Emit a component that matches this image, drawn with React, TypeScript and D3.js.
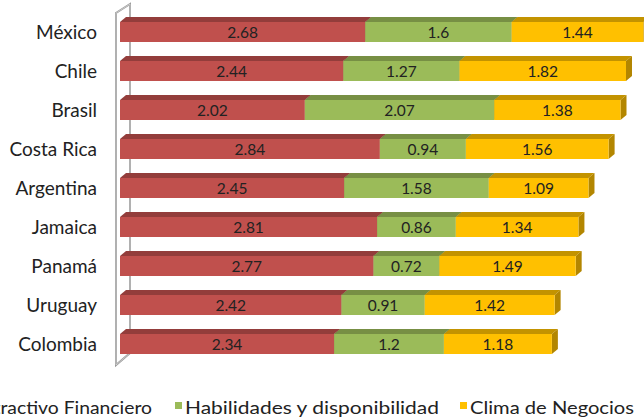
import React from "react";
import * as d3 from "d3";

const categories = ["México", "Chile", "Brasil", "Costa Rica", "Argentina", "Jamaica", "Panamá", "Uruguay", "Colombia"];
const atractivo = [2.68, 2.44, 2.02, 2.84, 2.45, 2.81, 2.77, 2.42, 2.34];
const habilidades = [1.6, 1.27, 2.07, 0.94, 1.58, 0.86, 0.72, 0.91, 1.2];
const clima = [1.44, 1.82, 1.38, 1.56, 1.09, 1.34, 1.49, 1.42, 1.18];
const seriesNames = ["Atractivo Financiero", "Habilidades  y disponibilidad", "Clima de Negocios"];
const seriesColors = ["#C0504D", "#9BBB59", "#FFC000"];

const W = 644;
const H = 418;
const BAR_H = 20;
const DX = 6;
const DY = 5;
const FONT = "Lato, 'Open Sans', sans-serif";

export default function App() {
  const series = [atractivo, habilidades, clima];
  const x = d3.scaleLinear().domain([0, 6]).range([120, 120 + 6 * 91.5]);
  const y = d3.scalePoint<string>().domain(categories).range([32, 344]);

  const rows = categories.map((c, i) => {
    const vals = series.map((s) => s[i]);
    const stackEnds = d3.cumsum(vals);
    return { c, vals, stackEnds };
  });

  const legendX = [-29, 175, 460];
  const legendEnd = [152, 439, 634];

  return (
    <div style={{ position: "fixed", left: 0, top: 0, width: W, height: H, background: "#fff" }}>
      <svg width={W} height={H} style={{ display: "block" }}>
        {/* side wall */}
        <path d="M116,365 L116,13 L130,4 L130,353 Z" fill="#ffffff" stroke="#9a9a9a" strokeWidth={2} />
        <path d="M116,365 L116,13 L130,4 L130,353 Z" fill="none" stroke="#e6e6e6" strokeWidth={0.6} />
        {rows.map((r) => {
          const cy = y(r.c)!;
          const y0 = cy - BAR_H / 2;
          const y1 = cy + BAR_H / 2;
          return (
            <g key={r.c}>
              {r.vals.map((v, k) => {
                const a = x(k === 0 ? 0 : r.stackEnds[k - 1]);
                const b = x(r.stackEnds[k]);
                const col = d3.color(seriesColors[k])!;
                const top = col.darker(0.75).formatHex();
                const side = col.darker(1.0).formatHex();
                return (
                  <g key={k}>
                    <path d={`M${a},${y0} L${a + DX},${y0 - DY} L${b + DX},${y0 - DY} L${b},${y0} Z`} fill={top} />
                    <path d={`M${b},${y0} L${b + DX},${y0 - DY} L${b + DX},${y1 - DY} L${b},${y1} Z`} fill={side} />
                    <rect x={a} y={y0} width={b - a} height={BAR_H} fill={seriesColors[k]} />
                  </g>
                );
              })}
              {r.vals.map((v, k) => {
                const a = x(k === 0 ? 0 : r.stackEnds[k - 1]);
                const b = x(r.stackEnds[k]);
                return (
                  <text key={"t" + k} x={(a + b) / 2} y={cy + 5.5} textAnchor="middle" fontFamily={FONT} fontSize={15.5} fill="#222">
                    {String(v)}
                  </text>
                );
              })}
              <text x={97} y={cy + 6.5} textAnchor="end" fontFamily={FONT} fontSize={19} fill="#222">
                {r.c}
              </text>
            </g>
          );
        })}
        {/* legend */}
        {seriesNames.map((n, k) => (
          <g key={n}>
            <rect x={legendX[k]} y={402} width={7} height={7} fill={seriesColors[k]} />
            <text
              x={legendX[k] + 10}
              y={413.5}
              fontFamily={FONT}
              fontSize={16.5}
              fill="#222"
              textLength={legendEnd[k] - legendX[k] - 10}
              lengthAdjust="spacingAndGlyphs"
            >
              {n}
            </text>
          </g>
        ))}
      </svg>
    </div>
  );
}
